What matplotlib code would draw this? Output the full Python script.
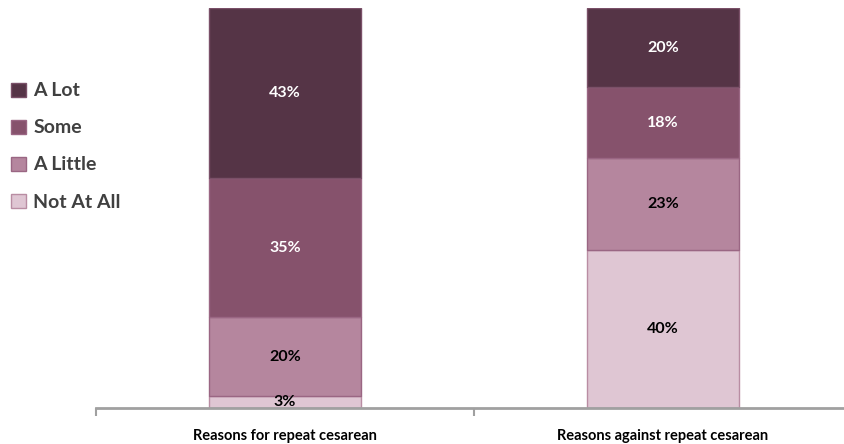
import matplotlib.pyplot as plt
from matplotlib.patches import Patch

# datos
categories = ['Reasons for repeat cesarean', 'Reasons against repeat cesarean']
levels = ['Not At All', 'A Little', 'Some', 'A Lot']
not_at_all = [3, 40]
a_little = [20, 23]
some = [35, 18]
a_lot = [43, 20]
series = [not_at_all, a_little, some, a_lot]

colors = ['#DFC6D3', '#B5869E', '#86526C', '#553446']
edges = ['#B98DA3', '#9A6683', '#9A6683', '#7A5068']
text_colors = ['black', 'black', 'white', 'white']

plt.rcParams['font.family'] = ['Lato', 'DejaVu Sans']

fig = plt.figure(figsize=(8.44, 4.44), dpi=100)
ax = fig.add_axes([96 / 844, (444 - 408) / 444, 756 / 844, 400 / 444])

x = [0.5, 1.5]
bottom = [0, 0]
for vals, c, ec, tc in zip(series, colors, edges, text_colors):
    ax.bar(x, vals, width=0.4, bottom=bottom, color=c, edgecolor=ec, linewidth=1)
    for xi, b, v in zip(x, bottom, vals):
        ax.text(xi, b + v / 2, f'{v}%', ha='center', va='center',
                color=tc, fontsize=11.5, fontweight='bold')
    bottom = [b + v for b, v in zip(bottom, vals)]

ax.set_xlim(0, 2)
ax.set_ylim(0, 101)
ax.set_yticks([])
for s in ['top', 'right', 'left']:
    ax.spines[s].set_visible(False)
ax.spines['bottom'].set_color('#A0A0A0')
ax.spines['bottom'].set_linewidth(2)
ax.set_xticks([0, 1, 2])
ax.set_xticklabels([])
ax.tick_params(axis='x', direction='out', length=6, width=1.5, color='#A0A0A0')
for xi, cat in zip(x, categories):
    ax.text(xi, -7, cat, ha='center', va='center', fontsize=10.5,
            fontweight='bold', color='black', clip_on=False)

# leyenda a la izquierda
handles = [Patch(facecolor=c, edgecolor=ec, label=l)
           for c, ec, l in zip(colors[::-1], edges[::-1], levels[::-1])]
fig.legend(handles=handles, loc='upper left', bbox_to_anchor=(-0.003, 0.845),
           frameon=False, prop={'weight': 'bold', 'size': 14},
           handlelength=0.75, handleheight=0.75, handletextpad=0.4,
           labelspacing=1.03, labelcolor='#404040', borderaxespad=0.3)

fig.savefig('out.png', dpi=100)
